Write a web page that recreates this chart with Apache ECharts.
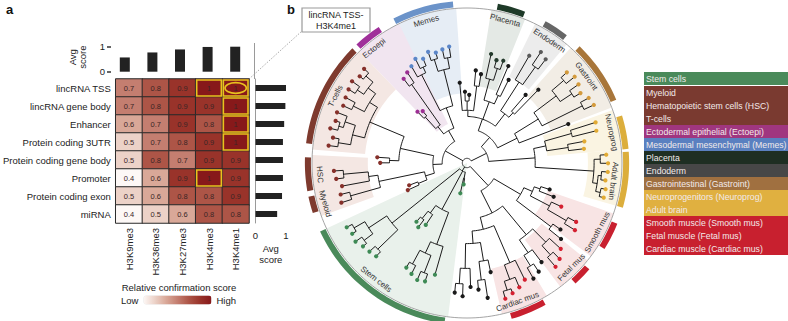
<!DOCTYPE html>
<html>
<head>
<meta charset="utf-8">
<title>Relative confirmation score / lincRNA TSS-H3K4me1 tree</title>
<script src="https://cdn.jsdelivr.net/npm/echarts@6/dist/echarts.min.js"></script>
<style>
  html, body { margin: 0; padding: 0; background: #fff; }
  #chart { width: 788px; height: 321px; }
</style>
</head>
<body>
<div id="chart"></div>
<script>
// ---------- panel a : heatmap ----------
const marks = ['H3K9me3', 'H3K36me3', 'H3K27me3', 'H3K4me3', 'H3K4me1'];
const regions = ['lincRNA TSS', 'lincRNA gene body', 'Enhancer', 'Protein coding 3UTR',
  'Protein coding gene body', 'Promoter', 'Protein coding exon', 'miRNA'];
const scores = [
  [0.7, 0.8, 0.9, 1, 1],
  [0.7, 0.8, 0.9, 0.9, 1],
  [0.6, 0.7, 0.9, 0.8, 1],
  [0.5, 0.7, 0.8, 0.9, 1],
  [0.5, 0.8, 0.7, 0.9, 0.9],
  [0.4, 0.6, 0.9, 1, 0.9],
  [0.5, 0.6, 0.8, 0.8, 0.9],
  [0.4, 0.5, 0.6, 0.8, 0.8]
];
const markAvg = [0.57, 0.77, 0.89, 0.99, 1.0];
const regionAvg = [1.0, 0.98, 0.94, 0.9, 0.9, 0.9, 0.87, 0.71];
const highlighted = [[3, 0], [4, 0], [4, 1], [4, 2], [4, 3], [3, 5]];
const circled = [[4, 0]];

// ---------- panel b : tree (node:radius, radius 100 = outer circle) ----------
const adultBrain = '(((AB:91,AB:91):88,(AB:90,AB:91):87):85,(AB:91,AB:90):86):82';
const neuroprog = '((NP:76,NP:77):66,(NP:86,NP:87):70):52';
const gastroint = '((GI:90,GI:89):83,((GI:86,GI:88):81,(GI:89,GI:87):82):72):54';
const endoderm = '((EN:84,EN:86):76,EN:80):62';
const placenta = '((PL:70,PL:69):64,PL:72):56';
const memes = '(((ME:76,ME:75):69,(ME:74,ME:76):70):62,((ME:73,ME:75):68,ME:72):64):38';
const ectoepi = '((EC:70,EC:68):62,(EC:44,EC:46):40):30';
const tcells = '((((TC:90,TC:89):86,(TC:91,TC:90):85):80,(TC:89,TC:88):82):74,((TC:90,(TC:89,TC:91):86):83,(TC:88,TC:90):84):76):68';
const hsc = '((HS:86,HS:85):80,HS:82):64';
const myeloid = '(MY:84,MY:85):78';
const stemA = '(((SC:88,SC:87):84,(SC:88,SC:86):83):76,(SC:85,SC:84):80):62';
const stemB = '((SC:50,SC:52):46,SC:48):40';
const stemC = '((SC:78,SC:80):74,(SC:82,SC:81):76):64';
const cardiac = '(((CM:91,CM:89):86,CM:87):80,CM:84):70';
const fetal = '((FM:88,FM:86):80,FM:82):72';
const smooth = '((SM:82,SM:80):74,SM:67):60';

const group1 = '((' + adultBrain + ',' + neuroprog + '):44,((X:70,' + gastroint + '):36,(((X:66,X:58):44,' + endoderm +
  '):40,((X:60,X:68):48,' + placenta + '):42,((X:58,X:60):50,(X:44,X:46):40,X:52):34):30):22):14';
const group2 = '((' + memes + ',' + ectoepi + '):24,((' + tcells + ',(RD:58,RD:56):50):44,((' + hsc + ',' + myeloid +
  '):58,(RD:40,RD:42):34):28):22):16';
const group3 = '(' + stemA + ',(' + stemB + ',(' + stemC + ',SC:75):56):34,(SC:20,SC:14):10):6';
const group4 = '((((((X:84,X:86):78,X:80):68,((X:82,X:88):76,X:72):64):52,' + cardiac + '):44,(((X:86,X:84):78,X:80):70,' + fetal +
  '):60):36,((X:78,X:74):68,(' + smooth + ',(X:60,X:56):50):46):40):20';
const treeNewick = '(' + [group1, group2, group3, group4].join(',') + '):3';
const leafStartAngle = -16;
const leafCodes = ['AB', 'NP', 'GI', 'EN', 'PL', 'ME', 'EC', 'TC', 'HS', 'MY', 'RD', 'SC', 'CM', 'FM', 'SM', 'X'];

// clade arcs (degrees, counter-clockwise from 3 o'clock)
const cladeNames = ['Memes', 'Ectoepi', 'T-cells', 'HSC', 'Myeloid', 'Stem cells', 'Cardiac mus', 'Fetal mus',
  'Smooth mus', 'Adult brain', 'Neuroprog', 'Gastroint', 'Endoderm', 'Placenta'];
const cladeStart = [95, 123, 135, 178, 192, 205, 286, 312, 328, -16, 5, 23, 52, 69];
const cladeEnd = [117, 133, 173, 190, 198, 262, 299, 319, 338, 4, 17, 46, 61, 79];
const cladeLabelAngle = [106, 129, 153, 184.5, 196, 232, 290, 315, 332, -7, 12, 36, 56, 75];

// shaded clade sectors
const shadeStart = [94, 116, 134, 177, 205, 283, 307, 323, -16, 5, 21, 50, 68];
const shadeEnd = [119, 134, 175, 200, 263, 301, 321, 341, 5, 20, 48, 64, 81];
const shadeInner = [45, 28, 66, 64, 0, 70, 62, 55, 78, 52, 58, 62, 50];

// legend
const legendGroups = [
  ['Stem cells'],
  ['Myeloid', 'Hematopoietic stem cells (HSC)', 'T-cells'],
  ['Ectodermal epithelial (Ectoepi)'],
  ['Mesodermal mesenchymal (Memes)'],
  ['Placenta'],
  ['Endoderm'],
  ['Gastrointestinal (Gastroint)'],
  ['Neuroprogenitors (Neuroprog)', 'Adult brain'],
  ['Smooth muscle (Smooth mus)', 'Fetal muscle (Fetal mus)', 'Cardiac muscle (Cardiac mus)']
];

// ---------- styles ----------
const FONT = '"Liberation Sans", Arial, sans-serif';
const dotColors = ['#e2ab34', '#e2ab34', '#d39a3c', '#5a5a5a', '#243a2c', '#5b86c8', '#9c2f93', '#86302a', '#86302a',
  '#86302a', '#86302a', '#3e8a55', '#d42030', '#d42030', '#d42030', '#1a1a1a'];
const cladeColors = ['#6b93c9', '#a0309a', '#7e3a2e', '#7e3a2e', '#7e3a2e', '#4a8a5a', '#c8202f', '#c8202f',
  '#c8202f', '#dcae3c', '#dcae3c', '#a8763a', '#666666', '#1e3a28'];
const shadeColors = ['#e6edf5', '#f1e5f0', '#f4e7e3', '#f4e7e3', '#e9f1eb', '#f8e4e4', '#f8e4e4', '#f8e4e4',
  '#faf4e2', '#faf4e2', '#f2ede5', '#ececec', '#e4e9e5'];
const legendFills = ['#4a8a5a', '#7a3a30', '#a0367f', '#5a80c0', '#1e2e22', '#474747', '#a07040', '#e0b040', '#c8202f'];

// ---------- tree layout ----------
function parseNewick(s) {
  let i = 0;
  function node() {
    const n = { children: [] };
    if (s[i] === '(') {
      i++;
      n.children.push(node());
      while (s[i] === ',') { i++; n.children.push(node()); }
      i++;
    } else {
      let name = '';
      while (i < s.length && /[A-Z]/.test(s[i])) name += s[i++];
      n.name = name;
    }
    if (s[i] === ':') {
      i++;
      let num = '';
      while (i < s.length && /[0-9.]/.test(s[i])) num += s[i++];
      n.r = +num;
    }
    return n;
  }
  return node();
}

const root = parseNewick(treeNewick);
const countLeaves = n => n.children.length ? n.children.reduce((s, c) => s + countLeaves(c), 0) : 1;
const step = 360 / countLeaves(root);
let leafIdx = 0;
const treeRows = [];
function place(n, parentR) {
  if (!n.children.length) {
    n.a = leafStartAngle + (leafIdx++ + 0.5) * step;
    treeRows.push([n.r, n.a, parentR, n.a, n.a, 1, leafCodes.indexOf(n.name)]);
    return;
  }
  n.children.forEach(c => place(c, n.r));
  const first = n.children[0].a;
  const last = n.children[n.children.length - 1].a;
  n.a = (first + last) / 2;
  treeRows.push([n.r, n.a, parentR, first, last, 0, -1]);
}
place(root, root.r);

function arcPoints(api, r, a0, a1) {
  const pts = [];
  const n = Math.max(2, Math.ceil(Math.abs(a1 - a0) / 1.5) + 1);
  for (let i = 0; i < n; i++) pts.push(api.coord([r, a0 + (a1 - a0) * i / (n - 1)]));
  return pts;
}

function sectorPoints(api, r0, r1, a0, a1) {
  const outer = arcPoints(api, r1, a0, a1);
  const inner = r0 > 0 ? arcPoints(api, r0, a1, a0) : [api.coord([0, a0])];
  return outer.concat(inner);
}

// ---------- chart ----------
const chart = echarts.init(document.getElementById('chart'), null, { renderer: 'svg' });

const heatData = [];
scores.forEach((row, r) => row.forEach((v, c) => heatData.push([c, r, v])));

const centred = { align: 'center', textAlign: 'center', verticalAlign: 'middle', textVerticalAlign: 'middle' };
const graphic = [
  { type: 'text', x: 6, y: 3, style: { text: 'a', font: 'bold 13px ' + FONT, fill: '#111' } },
  { type: 'text', x: 287, y: 3, style: { text: 'b', font: 'bold 13px ' + FONT, fill: '#111' } },
  { type: 'text', x: 179, y: 287, style: Object.assign({ text: 'Relative confirmation score', font: '9.5px ' + FONT, fill: '#222' }, centred) },
  { type: 'line', shape: { x1: 254.5, y1: 43, x2: 254.5, y2: 79 }, style: { stroke: '#9a9a9a', lineWidth: 1 } },
  { type: 'line', shape: { x1: 249, y1: 79, x2: 302, y2: 31 }, style: { stroke: '#aaaaaa', lineWidth: 1, lineDash: [1.5, 1.5] } },
  { type: 'rect', shape: { x: 302, y: 8, width: 68, height: 24 }, style: { fill: '#fff', stroke: '#9a9a9a', lineWidth: 1.2 } },
  { type: 'text', x: 336, y: 14.5, style: Object.assign({ text: 'lincRNA TSS-', font: '9px ' + FONT, fill: '#222' }, centred) },
  { type: 'text', x: 336, y: 25.5, style: Object.assign({ text: 'H3K4me1', font: '9px ' + FONT, fill: '#222' }, centred) }
];
let ly = 72;
legendGroups.forEach((lines, i) => {
  const h = lines.length * 13;
  graphic.push({ type: 'rect', shape: { x: 644, y: ly, width: 144, height: h }, style: { fill: legendFills[i] } });
  lines.forEach((t, j) => graphic.push({ type: 'text', x: 646, y: ly + 6.5 + j * 13,
    style: { text: t, font: '8.7px ' + FONT, fill: '#f2eaea', verticalAlign: 'middle', textVerticalAlign: 'middle' } }));
  ly += h + (i === 0 ? 1 : 0);
});

const option = {
  animation: false,
  textStyle: { fontFamily: FONT },
  graphic: graphic,
  grid: [
    { left: 111, top: 79, width: 138, height: 144 },
    { left: 111, top: 46.7, width: 138, height: 25 },
    { left: 255.5, top: 79, width: 30.5, height: 144 }
  ],
  xAxis: [
    { type: 'category', data: marks, gridIndex: 0, axisLine: { show: false }, axisTick: { show: false },
      axisLabel: { rotate: 90, fontSize: 9.5, color: '#222', margin: 5 } },
    { type: 'category', data: marks, gridIndex: 1, show: false },
    { type: 'value', gridIndex: 2, min: 0, max: 1, interval: 1, splitLine: { show: false },
      axisLine: { show: false }, axisTick: { show: false },
      axisLabel: { fontSize: 9.5, color: '#222', margin: 7 },
      name: 'Avg\nscore', nameLocation: 'middle', nameGap: 20,
      nameTextStyle: { fontSize: 9.5, color: '#222', lineHeight: 11, verticalAlign: 'top' } }
  ],
  yAxis: [
    { type: 'category', data: regions, inverse: true, gridIndex: 0, axisLine: { show: false }, axisTick: { show: false },
      axisLabel: { fontSize: 9.5, color: '#222', margin: 5 } },
    { type: 'value', gridIndex: 1, min: 0, max: 1, interval: 1, splitLine: { show: false },
      axisLine: { show: false }, axisTick: { show: true, length: 4, lineStyle: { color: '#333', width: 1.5 } },
      axisLabel: { fontSize: 9.5, color: '#222', margin: 6 } },
    { type: 'category', data: regions, inverse: true, gridIndex: 2,
      axisLine: { show: true, lineStyle: { color: '#9a9a9a', width: 1 } }, axisTick: { show: false }, axisLabel: { show: false } }
  ],
  polar: { center: [467, 163], radius: 155 },
  angleAxis: { type: 'value', min: 0, max: 360, startAngle: 0, clockwise: false, show: false },
  radiusAxis: { type: 'value', min: 0, max: 100, show: false },
  visualMap: {
    type: 'continuous', seriesIndex: 0, min: 0.4, max: 1, calculable: false, orient: 'horizontal',
    left: 121, top: 295, padding: 0, itemWidth: 9, itemHeight: 68, text: ['High', 'Low'], textGap: 5,
    textStyle: { fontSize: 9.5, color: '#222' },
    inRange: { color: ['#fdf8f6', '#ecd2c8', '#d9a898', '#c47e70', '#ad5547', '#99332a', '#87191a'] }
  },
  series: [
    { type: 'heatmap', xAxisIndex: 0, yAxisIndex: 0, data: heatData,
      itemStyle: { borderColor: '#2a2a2a', borderWidth: 1 },
      label: { show: true, fontSize: 7.5, color: '#3a2626', formatter: p => String(p.value[2]) } },
    { type: 'custom', xAxisIndex: 0, yAxisIndex: 0, data: highlighted, z: 5, silent: true,
      renderItem: (params, api) => {
        const c = api.coord([api.value(0), api.value(1)]);
        const s = api.size([1, 1]);
        return { type: 'rect', shape: { x: c[0] - s[0] / 2 + 1, y: c[1] - s[1] / 2 + 1, width: s[0] - 2, height: s[1] - 2 },
          style: { fill: null, stroke: '#e8c21e', lineWidth: 1.6 } };
      } },
    { type: 'custom', xAxisIndex: 0, yAxisIndex: 0, data: circled, z: 6, silent: true,
      renderItem: (params, api) => {
        const c = api.coord([api.value(0), api.value(1)]);
        const s = api.size([1, 1]);
        return { type: 'ellipse', shape: { cx: c[0], cy: c[1], rx: s[0] * 0.4, ry: s[1] * 0.3 },
          style: { fill: null, stroke: '#e8c21e', lineWidth: 1.6 } };
      } },
    { type: 'bar', xAxisIndex: 1, yAxisIndex: 1, data: markAvg, barWidth: 10, itemStyle: { color: '#222' } },
    { type: 'bar', xAxisIndex: 2, yAxisIndex: 2, data: regionAvg, barWidth: 6, itemStyle: { color: '#222' } },
    // rotated title of the top bar chart
    { type: 'custom', xAxisIndex: 1, yAxisIndex: 1, data: [[0, 0.5]], silent: true,
      renderItem: (params, api) => {
        const p = api.coord([0, api.value(1)]);
        const x0 = params.coordSys.x;
        return { type: 'group', children: [
          { type: 'text', x: x0 - 39, y: p[1] - 2, rotation: Math.PI / 2,
            style: Object.assign({ text: 'Avg', font: '9.5px ' + FONT, fill: '#222' }, centred) },
          { type: 'text', x: x0 - 29, y: p[1] - 2, rotation: Math.PI / 2,
            style: Object.assign({ text: 'score', font: '9.5px ' + FONT, fill: '#222' }, centred) }
        ] };
      } },
    // shaded sectors
    { type: 'custom', coordinateSystem: 'polar', clip: false, silent: true, z: 1,
      data: shadeStart.map((a, i) => [shadeInner[i], a, shadeEnd[i]]),
      renderItem: (params, api) => ({ type: 'polygon',
        shape: { points: sectorPoints(api, api.value(0), 100, api.value(1), api.value(2)) },
        style: { fill: shadeColors[params.dataIndex] } }) },
    // outer circle
    { type: 'custom', coordinateSystem: 'polar', clip: false, silent: true, z: 2, data: [[100, 0]],
      renderItem: (params, api) => ({ type: 'polyline', shape: { points: arcPoints(api, api.value(0), 0, 360) },
        style: { fill: null, stroke: '#a5a5a5', lineWidth: 1 } }) },
    // clade arcs
    { type: 'custom', coordinateSystem: 'polar', clip: false, silent: true, z: 2,
      data: cladeStart.map((a, i) => [100.7, a, cladeEnd[i]]),
      renderItem: (params, api) => ({ type: 'polygon',
        shape: { points: sectorPoints(api, api.value(0), 104.6, api.value(1), api.value(2)) },
        style: { fill: cladeColors[params.dataIndex] } }) },
    // tree
    { type: 'custom', coordinateSystem: 'polar', clip: false, silent: true, z: 3, data: treeRows,
      renderItem: (params, api) => {
        const r = api.value(0), a = api.value(1), pr = api.value(2);
        const els = [];
        const p1 = api.coord([r, a]);
        if (pr < r) {
          const p0 = api.coord([pr, a]);
          els.push({ type: 'line', shape: { x1: p0[0], y1: p0[1], x2: p1[0], y2: p1[1] },
            style: { stroke: '#1b1b1b', lineWidth: 1 } });
        }
        if (api.value(5) === 1) {
          els.push({ type: 'circle', shape: { cx: p1[0], cy: p1[1], r: 2.1 },
            style: { fill: dotColors[api.value(6)] } });
        } else {
          els.push({ type: 'polyline', shape: { points: arcPoints(api, r, api.value(3), api.value(4)) },
            style: { fill: null, stroke: '#1b1b1b', lineWidth: 1 } });
        }
        return { type: 'group', children: els };
      } },
    // clade labels
    { type: 'custom', coordinateSystem: 'polar', clip: false, silent: true, z: 4,
      data: cladeLabelAngle.map(a => [95.2, a]),
      renderItem: (params, api) => {
        const a = api.value(1);
        const p = api.coord([api.value(0), a]);
        const upper = a > -10 && a < 180;
        const rot = (upper ? a - 90 : a + 90) * Math.PI / 180;
        return { type: 'text', x: p[0], y: p[1], rotation: rot,
          style: Object.assign({ text: cladeNames[params.dataIndex], font: '8px ' + FONT, fill: '#333' }, centred) };
      } }
  ]
};

chart.setOption(option);
</script>
</body>
</html>
